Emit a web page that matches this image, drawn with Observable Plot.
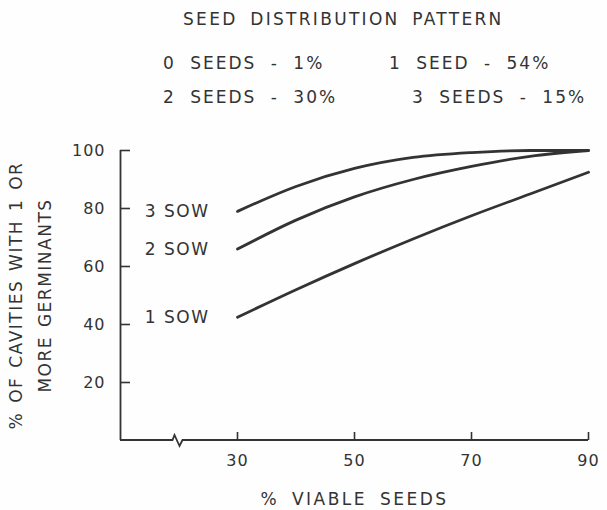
<!DOCTYPE html>
<html>
<head>
<meta charset="utf-8">
<script src="https://cdn.jsdelivr.net/npm/d3@7"></script>
<script src="https://cdn.jsdelivr.net/npm/@observablehq/plot@0.6"></script>
<style>
  html, body { margin: 0; padding: 0; background: #fefefe; }
  #wrap { position: relative; width: 607px; height: 510px; font-family: "DejaVu Sans", sans-serif; color: #333; }
  .hdr { position: absolute; font-size: 17px; letter-spacing: 2px; word-spacing: 7px; white-space: pre; line-height: 1; }
  #chart { position: absolute; left: 0; top: 120px; }
</style>
</head>
<body>
<div id="wrap">
  <div class="hdr" id="t0" style="left:183px; top:11px; letter-spacing:2.3px; word-spacing:5px;"></div>
  <div class="hdr" id="t1" style="left:163px; top:55px;"></div>
  <div class="hdr" id="t2" style="left:389px; top:55px;"></div>
  <div class="hdr" id="t3" style="left:163px; top:89px;"></div>
  <div class="hdr" id="t4" style="left:412px; top:89px;"></div>
  <div id="chart"></div>
</div>
<script>
const title = "SEED DISTRIBUTION PATTERN";
const patternLabels = ["0 SEEDS - 1%", "1 SEED - 54%", "2 SEEDS - 30%", "3 SEEDS - 15%"];

const viable = [30, 40, 50, 60, 70, 80, 90];
const sow1 = [42.5, 52, 61, 69.5, 77.5, 85, 92.5];
const sow2 = [66, 76, 84, 90, 94.5, 98, 100];
const sow3 = [79, 87.6, 93.8, 97.6, 99.3, 100, 100];
const seriesNames = ["1 SOW", "2 SOW", "3 SOW"];
const seriesValues = [sow1, sow2, sow3];

const xTicks = [30, 50, 70, 90];
const yTicks = [20, 40, 60, 80, 100];
const xDomain = [10, 90];
const yDomain = [0, 100];
const axisBreakAt = 20;
const xLabel = "% VIABLE SEEDS";
const yLabel = "% OF CAVITIES WITH 1 OR\nMORE GERMINANTS";

document.getElementById("t0").textContent = title;
document.getElementById("t1").textContent = patternLabels[0];
document.getElementById("t2").textContent = patternLabels[1];
document.getElementById("t3").textContent = patternLabels[2];
document.getElementById("t4").textContent = patternLabels[3];

const rows = [];
seriesNames.forEach((name, i) => {
  viable.forEach((v, j) => rows.push({series: name, x: v, y: seriesValues[i][j]}));
});
const starts = seriesNames.map((name, i) => ({series: name, x: viable[0], y: seriesValues[i][0]}));

const ink = "#333";

// x axis baseline with a break zigzag, drawn from the scales
const xAxisLine = (index, scales, values, dimensions) => {
  const x0 = scales.x(xDomain[0]), x1 = scales.x(xDomain[1]);
  const y0 = scales.y(yDomain[0]);
  const xb = scales.x(axisBreakAt);
  const p = d3.path();
  p.moveTo(x0, y0);
  p.lineTo(xb - 6, y0);
  p.lineTo(xb - 4, y0 - 5);
  p.lineTo(xb + 1, y0 + 6);
  p.lineTo(xb + 4, y0);
  p.lineTo(x1, y0);
  const path = d3.create("svg:path")
    .attr("d", p.toString())
    .attr("fill", "none")
    .attr("stroke", ink)
    .attr("stroke-width", 1.8);
  const g = d3.create("svg:g");
  g.append(() => path.node());
  return g.node();
};

const chart = Plot.plot({
  width: 607,
  height: 390,
  marginLeft: 120,
  marginRight: 19,
  marginTop: 30,
  marginBottom: 70,
  style: {fontFamily: "DejaVu Sans, sans-serif", fontSize: "16px", color: ink, background: "transparent", overflow: "visible"},
  x: {domain: xDomain},
  y: {domain: yDomain},
  marks: [
    Plot.ruleX([xDomain[0]], {y1: yDomain[0], y2: yDomain[1], stroke: ink, strokeWidth: 1.8}),
    xAxisLine,
    Plot.axisX({ticks: xTicks, tickSize: -8, tickPadding: 22, stroke: ink, strokeWidth: 1.6, fontSize: 16, label: null, tickFormat: d => String(d)}),
    Plot.axisY({ticks: yTicks, tickSize: -10, tickPadding: 25, stroke: ink, strokeWidth: 1.6, fontSize: 16, label: null, tickFormat: d => String(d)}),
    Plot.line(rows, {x: "x", y: "y", z: "series", curve: "monotone-x", stroke: ink, strokeWidth: 2.8}),
    Plot.text(starts, {x: "x", y: "y", text: "series", textAnchor: "end", dx: -28, fontSize: 17, fill: ink}),
    Plot.text([xLabel], {frameAnchor: "bottom", dy: 64, fontSize: 17, fill: ink, text: d => d}),
    Plot.text([yLabel], {frameAnchor: "left", textAnchor: "middle", dx: -93, rotate: -90, lineHeight: 1.7, fontSize: 17, fill: ink, text: d => d})
  ]
});

// letter spacing to mimic the wide lettering of the original
const svg = d3.select(chart);
svg.selectAll('g[aria-label="x-axis tick label"] text, g[aria-label="y-axis tick label"] text')
  .style("letter-spacing", "1px");
const textGroups = svg.selectAll('g[aria-label="text"]').nodes();
if (textGroups[0]) d3.select(textGroups[0]).selectAll("text").style("letter-spacing", "1.5px").style("word-spacing", "0px");
if (textGroups[1]) d3.select(textGroups[1]).selectAll("text").style("letter-spacing", "2.5px").style("word-spacing", "5px");
if (textGroups[2]) d3.select(textGroups[2]).selectAll("text").style("letter-spacing", "1.5px").style("word-spacing", "2px");

document.getElementById("chart").appendChild(chart);
</script>
</body>
</html>
